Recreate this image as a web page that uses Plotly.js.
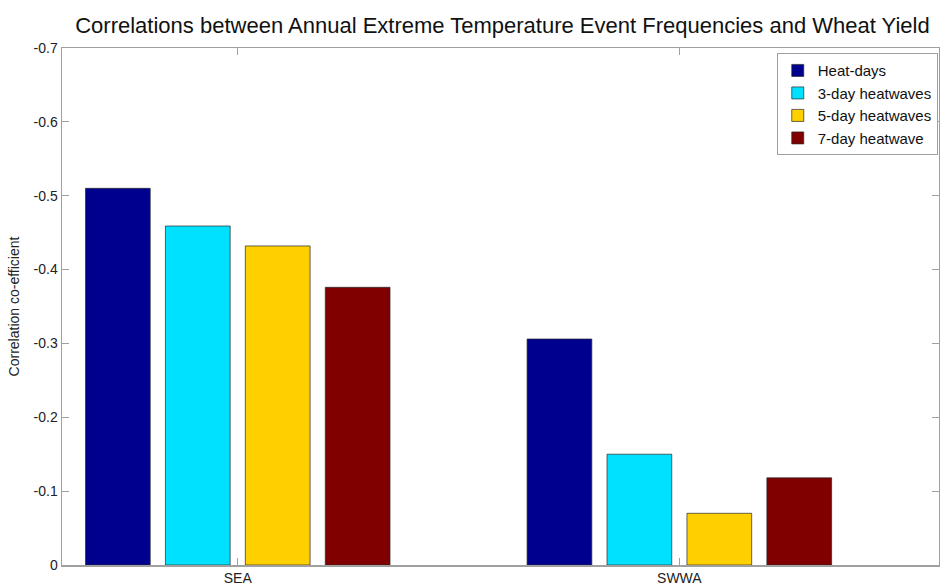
<!DOCTYPE html>
<html>
<head>
<meta charset="utf-8">
<script src="https://cdn.plot.ly/plotly-3.0.1.min.js"></script>
<style>html,body{margin:0;padding:0;background:#fff;}#chart{width:940px;height:588px;}</style>
</head>
<body>
<div id="chart"></div>
<script>
const regions = ["SEA", "SWWA"];
const seriesNames = ["Heat-days", "3-day heatwaves", "5-day heatwaves", "7-day heatwave"];
const heatDays = [-0.510, -0.306];
const heatwave3 = [-0.459, -0.150];
const heatwave5 = [-0.432, -0.070];
const heatwave7 = [-0.376, -0.118];
const seriesColors = ["#00008F", "#00E0FF", "#FFD000", "#800000"];
const yTickVals = [0, -0.1, -0.2, -0.3, -0.4, -0.5, -0.6, -0.7];
const yTickText = ["0", "-0.1", "-0.2", "-0.3", "-0.4", "-0.5", "-0.6", "-0.7"];

const allSeries = [heatDays, heatwave3, heatwave5, heatwave7];
const traces = allSeries.map((vals, i) => ({
  type: "bar",
  name: seriesNames[i],
  x: regions,
  y: vals,
  marker: { color: seriesColors[i], line: { color: "rgba(40,40,40,0.7)", width: 1 } },
  hoverinfo: "x+y+name"
}));

const axisCommon = {
  showline: true, linecolor: "#a0a0a0", linewidth: 1.5, mirror: "ticks",
  ticks: "inside", ticklen: 7, tickcolor: "#a0a0a0", tickwidth: 1,
  showgrid: false, zeroline: false,
  tickfont: { family: "Liberation Sans, Arial, sans-serif", size: 14, color: "#222" }
};

const layout = {
  width: 940, height: 588,
  margin: { l: 62, r: 1, t: 48, b: 23, autoexpand: false },
  paper_bgcolor: "#fff", plot_bgcolor: "#fff",
  title: {
    text: "Correlations between Annual Extreme Temperature Event Frequencies and Wheat Yield",
    font: { family: "Liberation Sans, Arial, sans-serif", size: 22, color: "#111" },
    x: 0.5345, xanchor: "center", y: 0.957, yanchor: "middle"
  },
  barmode: "group",
  bargap: 0.276,
  bargroupgap: 0.19,
  xaxis: Object.assign({}, axisCommon, {
    type: "category",
    range: [-0.398, 1.588]
  }),
  yaxis: Object.assign({}, axisCommon, {
    range: [0, -0.7],
    tickvals: yTickVals,
    ticktext: yTickText,
    title: { text: "Correlation co-efficient", standoff: 10,
      font: { family: "Liberation Sans, Arial, sans-serif", size: 14, color: "#222" } }
  }),
  showlegend: true,
  legend: {
    x: 0.815, xanchor: "left", y: 0.99, yanchor: "top",
    bgcolor: "#fff", bordercolor: "#a0a0a0", borderwidth: 1,
    font: { family: "Liberation Sans, Arial, sans-serif", size: 15, color: "#111" },
    itemwidth: 30, tracegroupgap: 0
  }
};

Plotly.newPlot("chart", traces, layout, { displayModeBar: false, staticPlot: true });
</script>
</body>
</html>
